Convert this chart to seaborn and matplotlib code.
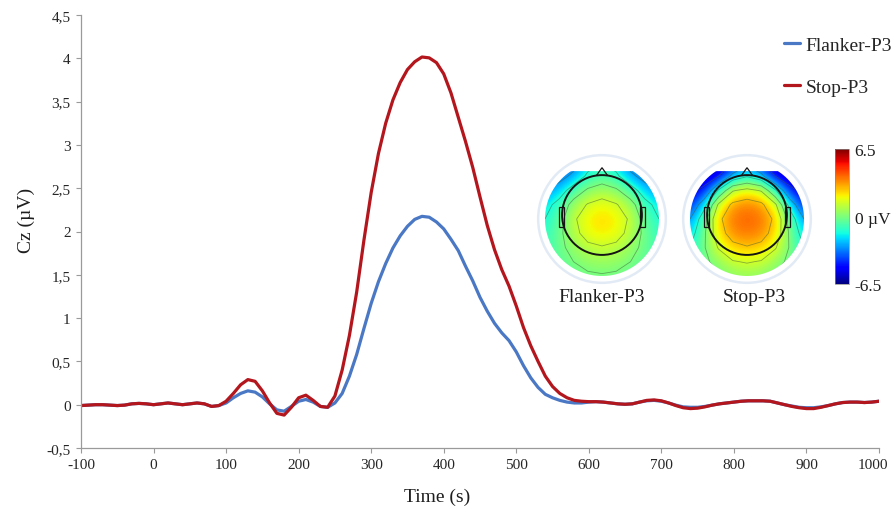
import numpy as np
import pandas as pd
import seaborn as sns
import matplotlib
matplotlib.use("Agg")
import matplotlib.pyplot as plt
from matplotlib.path import Path
from matplotlib.patches import PathPatch, Circle, Polygon, Rectangle
from matplotlib.transforms import ScaledTranslation

# ---------------------------------------------------------------- data
time_ms = list(range(-100, 1001, 10))

flanker_p3 = [
    -0.01, -0.005, 0.0, 0.0, -0.005, -0.01, -0.005, 0.01, 0.015, 0.01,
    0.0, 0.01, 0.02, 0.01, 0.0, 0.01, 0.02, 0.01, -0.02, -0.01,
    0.02, 0.08, 0.13, 0.16, 0.145, 0.09, 0.01, -0.06, -0.075, -0.02,
    0.04, 0.06, 0.03, -0.02, -0.03, 0.02, 0.13, 0.33, 0.58, 0.88,
    1.17, 1.42, 1.63, 1.81, 1.95, 2.06, 2.14, 2.175, 2.165, 2.11,
    2.03, 1.91, 1.78, 1.60, 1.43, 1.24, 1.08, 0.94, 0.83, 0.74,
    0.61, 0.45, 0.31, 0.20, 0.12, 0.08, 0.05, 0.03, 0.02, 0.02,
    0.03, 0.035, 0.03, 0.02, 0.01, 0.005, 0.01, 0.03, 0.045, 0.05,
    0.04, 0.02, -0.005, -0.025, -0.03, -0.03, -0.02, -0.005, 0.01, 0.02,
    0.03, 0.04, 0.045, 0.045, 0.045, 0.04, 0.02, 0.0, -0.015, -0.03,
    -0.035, -0.035, -0.025, -0.01, 0.01, 0.025, 0.03, 0.03, 0.025, 0.03,
    0.04,
]

stop_p3 = [
    -0.01, -0.005, 0.0, 0.0, -0.005, -0.01, -0.005, 0.01, 0.015, 0.01,
    0.0, 0.01, 0.02, 0.01, 0.0, 0.01, 0.02, 0.01, -0.02, -0.01,
    0.04, 0.13, 0.23, 0.29, 0.27, 0.16, 0.02, -0.10, -0.12, -0.03,
    0.08, 0.11, 0.05, -0.02, -0.03, 0.10, 0.40, 0.80, 1.30, 1.90,
    2.45, 2.90, 3.25, 3.52, 3.72, 3.87, 3.96, 4.015, 4.005, 3.95,
    3.82, 3.60, 3.32, 3.04, 2.74, 2.40, 2.07, 1.79, 1.56, 1.37,
    1.14, 0.89, 0.68, 0.50, 0.33, 0.21, 0.13, 0.08, 0.05, 0.04,
    0.035, 0.035, 0.03, 0.02, 0.01, 0.005, 0.01, 0.03, 0.05, 0.055,
    0.045, 0.02, -0.01, -0.035, -0.045, -0.04, -0.025, -0.005, 0.01, 0.02,
    0.03, 0.04, 0.045, 0.045, 0.045, 0.04, 0.02, 0.0, -0.02, -0.035,
    -0.045, -0.045, -0.03, -0.01, 0.01, 0.025, 0.03, 0.03, 0.025, 0.03,
    0.04,
]

conditions = ["Flanker-P3", "Stop-P3"]
line_colors = ["#4a78c4", "#b3161d"]

y_ticks = [-0.5, 0, 0.5, 1, 1.5, 2, 2.5, 3, 3.5, 4, 4.5]
y_tick_labels = ["-0,5", "0", "0,5", "1", "1,5", "2", "2,5", "3", "3,5", "4", "4,5"]
x_ticks = list(range(-100, 1001, 100))

# scalp voltage (µV) on a 9x9 grid over the head, top row = frontal
topo_flanker = np.array([
    [-4.5, -4.5, -3.8, -2.2, -1.6, -2.2, -3.8, -4.5, -4.5],
    [-4.0, -3.6, -2.6, -1.2, -0.7, -1.2, -2.6, -3.6, -4.0],
    [-3.0, -2.2, -0.8, 0.2, 0.6, 0.2, -0.8, -2.2, -3.0],
    [-2.0, -1.0, 0.5, 1.4, 1.8, 1.4, 0.5, -1.0, -2.0],
    [-1.5, -0.5, 1.1, 2.0, 2.3, 2.0, 1.1, -0.5, -1.5],
    [-1.2, -0.3, 0.9, 1.8, 2.1, 1.8, 0.9, -0.3, -1.2],
    [-1.0, -0.3, 0.4, 1.0, 1.2, 1.0, 0.4, -0.3, -1.0],
    [-1.0, -0.5, 0.0, 0.4, 0.5, 0.4, 0.0, -0.5, -1.0],
    [-1.0, -0.8, -0.4, -0.2, -0.1, -0.2, -0.4, -0.8, -1.0],
])

topo_stop = np.array([
    [-6.5, -6.5, -6.5, -5.0, -3.5, -5.0, -6.5, -6.5, -6.5],
    [-6.5, -6.0, -5.0, -2.5, -1.6, -2.5, -5.0, -6.0, -6.5],
    [-5.5, -4.5, -1.3, 1.2, 1.7, 1.2, -1.3, -4.5, -5.5],
    [-4.5, -2.0, 1.5, 3.1, 3.5, 3.1, 1.5, -2.0, -4.5],
    [-3.0, -0.6, 2.5, 3.7, 4.0, 3.7, 2.5, -0.6, -3.0],
    [-2.2, -0.2, 2.2, 3.4, 3.7, 3.4, 2.2, -0.2, -2.2],
    [-1.5, -0.1, 1.4, 2.4, 2.7, 2.4, 1.4, -0.1, -1.5],
    [-1.2, -0.3, 0.5, 1.2, 1.4, 1.2, 0.5, -0.3, -1.2],
    [-1.0, -0.6, -0.2, 0.3, 0.4, 0.3, -0.2, -0.6, -1.0],
])

color_limit = 6.5

# ---------------------------------------------------------------- style
sns.set_style("ticks")
plt.rcParams["font.family"] = ["Liberation Serif", "DejaVu Serif"]

W, H = 892, 510
fig = plt.figure(figsize=(W / 100, H / 100), dpi=100)

ax = fig.add_axes([81 / W, 1 - 449 / H, (879 - 81) / W, (449 - 16) / H])

df = pd.DataFrame({
    "Time": time_ms * 2,
    "Cz": flanker_p3 + stop_p3,
    "condition": [conditions[0]] * len(time_ms) + [conditions[1]] * len(time_ms),
})

sns.lineplot(data=df, x="Time", y="Cz", hue="condition", hue_order=conditions,
             palette=line_colors, linewidth=2.3, ax=ax, legend=False)

ax.set_xlim(-100, 1000)
ax.set_ylim(-0.5, 4.5)
ax.set_xticks(x_ticks)
ax.set_xticklabels([str(t) for t in x_ticks])
ax.set_yticks(y_ticks)
ax.set_yticklabels(y_tick_labels)
ax.tick_params(axis="both", labelsize=11, labelcolor="#262626",
               length=3.5, width=0.8, direction="out", pad=4, color="#9a9a9a")
for side in ("top", "right"):
    ax.spines[side].set_visible(False)
for side in ("left", "bottom"):
    ax.spines[side].set_color("#9a9a9a")
    ax.spines[side].set_linewidth(0.9)

# keep the last time label inside the canvas
last = ax.get_xticklabels()[-1]
last.set_transform(last.get_transform() + ScaledTranslation(-6 / 100, 0, fig.dpi_scale_trans))

ax.set_xlabel("Time (s)", fontsize=14, color="#1e1e1e")
ax.set_ylabel("Cz (µV)", fontsize=14, color="#1e1e1e")
ax.xaxis.set_label_coords((437 - 81) / 798, (449 - 497) / 433)
ax.yaxis.set_label_coords((26 - 81) / 798, (449 - 220) / 433)
ax.xaxis.label.set_va("center")
ax.yaxis.label.set_va("center")

# legend
handles = [plt.Line2D([], [], color=c, linewidth=2.3) for c in line_colors]
fig.legend(handles, conditions, loc="upper left",
           bbox_to_anchor=(784 / W, 1 - 37 / H), frameon=False,
           fontsize=14, handlelength=0.8, handletextpad=0.3,
           labelspacing=1.28, borderaxespad=0, borderpad=0)

# ---------------------------------------------------------------- scalp maps
R = 57.0          # px per unit radius of the coloured disc
grid = np.linspace(-1, 1, 9)
half = 0.125
theta = np.linspace(0, 2 * np.pi, 240)
cut_top = 0.84
disc = np.column_stack([np.cos(theta), np.minimum(np.sin(theta), cut_top)])
disc_path = Path(np.vstack([disc, disc[:1]]), closed=True)


def draw_topomap(cx, cy, values):
    span = 1.2
    tax = fig.add_axes([(cx - span * R) / W, 1 - (cy + span * R) / H,
                        2 * span * R / W, 2 * span * R / H])
    tax.set_xlim(-span, span)
    tax.set_ylim(-span, span)
    tax.set_aspect("equal")
    tax.axis("off")

    clip = PathPatch(disc_path, transform=tax.transData,
                     facecolor="none", edgecolor="none")
    tax.add_patch(clip)

    im = tax.imshow(values, cmap="jet", vmin=-color_limit, vmax=color_limit,
                    extent=(-1 - half, 1 + half, -1 - half, 1 + half),
                    origin="upper", interpolation="bicubic", zorder=1)
    im.set_clip_path(clip)

    cs = tax.contour(grid, grid, values[::-1], levels=[-5, -3, -1.5, 0, 1.3, 2.8],
                     colors="#3d5a3a", linewidths=0.6, linestyles="solid",
                     alpha=0.5, zorder=2)
    cs.set_clip_path(clip)

    tax.add_patch(Circle((0, 0), 1.12, facecolor="none",
                         edgecolor="#e2ebf5", linewidth=1.8, zorder=0))
    hy = 0.07
    tax.add_patch(Circle((0, hy), 0.70, facecolor="none",
                         edgecolor="#151515", linewidth=1.4, zorder=3))
    tax.add_patch(Polygon([(-0.1, hy + 0.69), (0, hy + 0.83), (0.1, hy + 0.69)],
                          closed=False, facecolor="none", edgecolor="#151515",
                          linewidth=0.9, zorder=3))
    for sgn in (-1, 1):
        x0 = 0.665 if sgn > 0 else -0.755
        tax.add_patch(Rectangle((x0, -0.14), 0.09, 0.35, facecolor="none",
                                edgecolor="#151515", linewidth=0.9, zorder=3))
    return im


im = draw_topomap(602, 220, topo_flanker)
draw_topomap(747, 220, topo_stop)

fig.text(602 / W, 1 - 298 / H, "Flanker-P3", ha="center", va="center",
         fontsize=14, color="#1e1e1e")
fig.text(754 / W, 1 - 298 / H, "Stop-P3", ha="center", va="center",
         fontsize=14, color="#1e1e1e")

cax = fig.add_axes([835 / W, 1 - 285 / H, 14 / W, 135 / H])
cb = fig.colorbar(im, cax=cax, ticks=[-color_limit, 0, color_limit])
cb.set_ticklabels(["-6.5", "0 µV", "6.5"])
cb.outline.set_linewidth(0.5)
cb.outline.set_edgecolor("#888888")
cax.tick_params(length=0, labelsize=12.5, pad=4, labelcolor="#1e1e1e")

fig.savefig("out.png", dpi=100)
